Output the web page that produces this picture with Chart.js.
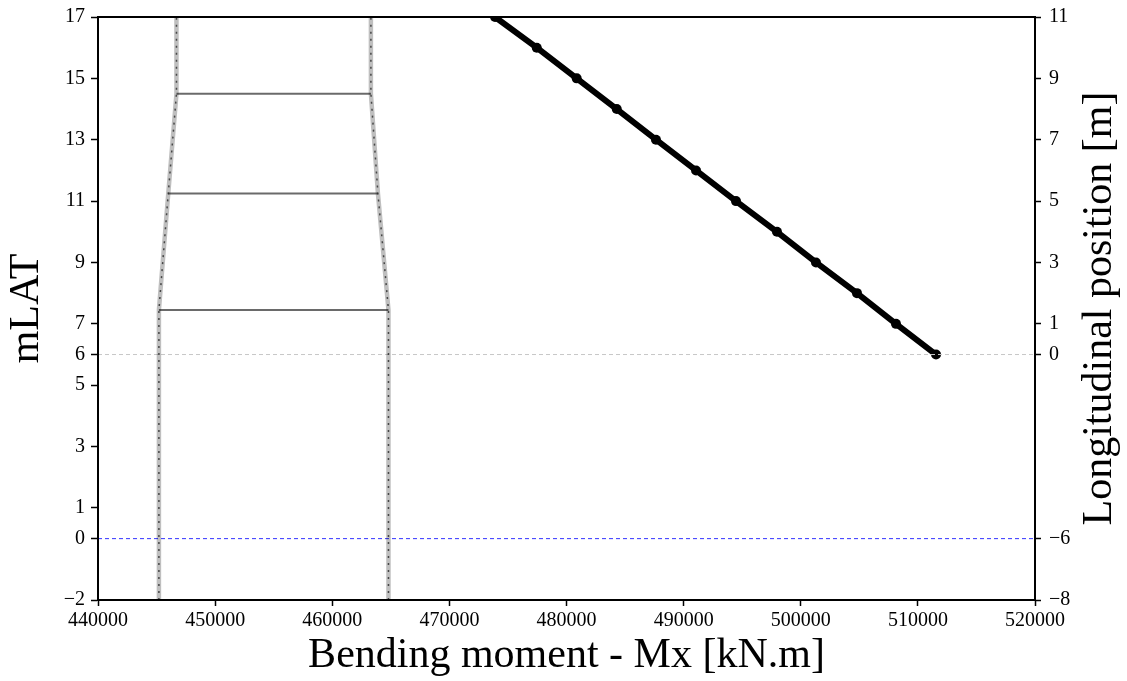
<!DOCTYPE html>
<html>
<head>
<meta charset="utf-8">
<script src="https://cdn.jsdelivr.net/npm/chart.js@4"></script>
<style>
  html, body { margin: 0; padding: 0; background: #fff; }
  #wrap { width: 1127px; height: 681px; }
</style>
</head>
<body>
<div id="wrap"><canvas id="chart" width="1127" height="681"></canvas></div>
<script>
// structure outline (left axis, mLAT)
const outlineLat = [-2, 7.45, 11.25, 14.5, 17];
const leftEdge = [445200, 445200, 446000, 446700, 446700];
const rightEdge = [464800, 464800, 463900, 463300, 463300];
const ringLat = [7.45, 11.25, 14.5];

// bending moment along the pile (right axis, longitudinal position)
const position = [0, 1, 2, 3, 4, 5, 6, 7, 8, 9, 10, 11];
const moment = [511550, 508130, 504800, 501300, 497970, 494470, 491060, 487640, 484290, 480870, 477460, 473900];

const leftTicks = [-2, 0, 1, 3, 5, 6, 7, 9, 11, 13, 15, 17];
const rightTicks = [-8, -6, 0, 1, 3, 5, 7, 9, 11];
const xMin = 440000, xMax = 520000;
const refLat = 6;
const waterLat = 0;

const font = "'Liberation Serif', 'DejaVu Serif', serif";
const rightTitle = "Longitudinal position [m]";

function edge(xs) {
  return xs.map((x, i) => ({ x: x, y: outlineLat[i] }));
}

const datasets = [];
[leftEdge, rightEdge].forEach(xs => {
  datasets.push({
    data: edge(xs), yAxisID: "y", borderColor: "rgba(0,0,0,0.25)",
    borderWidth: 4.5, pointRadius: 0, tension: 0
  });
  datasets.push({
    data: edge(xs), yAxisID: "y", borderColor: "rgba(40,40,40,0.75)",
    borderWidth: 1.5, borderDash: [2, 5], pointRadius: 0, tension: 0
  });
});
ringLat.forEach(lat => {
  const i = outlineLat.indexOf(lat);
  datasets.push({
    data: [{ x: leftEdge[i], y: lat }, { x: rightEdge[i], y: lat }],
    yAxisID: "y", borderColor: "rgba(80,80,80,0.85)", borderWidth: 2, pointRadius: 0
  });
});
datasets.push({
  data: [{ x: xMin, y: refLat }, { x: xMax, y: refLat }], yAxisID: "y",
  borderColor: "#c8c8c8", borderWidth: 1, borderDash: [4, 3], pointRadius: 0
});
datasets.push({
  data: [{ x: xMin, y: waterLat }, { x: xMax, y: waterLat }], yAxisID: "y",
  borderColor: "#3333ff", borderWidth: 1, borderDash: [4, 3], pointRadius: 0
});
datasets.push({
  data: position.map((p, i) => ({ x: moment[i], y: p })), yAxisID: "y2",
  borderColor: "#000", backgroundColor: "#000", borderWidth: 6,
  pointRadius: 5, pointBorderWidth: 0, pointHoverRadius: 5, tension: 0
});

const frame = {
  id: "frame",
  afterDraw(chart) {
    const a = chart.chartArea, c = chart.ctx;
    c.save();
    c.strokeStyle = "#000";
    c.lineWidth = 2;
    c.strokeRect(a.left, a.top, a.right - a.left, a.bottom - a.top);
    // right axis title, reading bottom to top
    c.translate(1100, (a.top + a.bottom) / 2);
    c.rotate(-Math.PI / 2);
    c.fillStyle = "#000";
    c.font = "42px " + font;
    c.textAlign = "center";
    c.textBaseline = "middle";
    c.fillText(rightTitle, 0, 0);
    c.restore();
  }
};

function axisTicks(list) {
  return function (scale) { scale.ticks = list.map(v => ({ value: v })); };
}
function fitY(w) {
  return function (s) { s.width = w; s.paddingTop = 0; s.paddingBottom = 0; };
}
const minus = v => String(v).replace("-", "\u2212");

new Chart(document.getElementById("chart"), {
  type: "line",
  data: { datasets: datasets },
  plugins: [frame],
  options: {
    responsive: false,
    animation: false,
    layout: { padding: { top: 17, left: 0, right: 0, bottom: 0 } },
    plugins: { legend: { display: false }, tooltip: { enabled: false } },
    scales: {
      x: {
        type: "linear", min: xMin, max: xMax,
        afterFit(s) { s.height = 81; s.paddingLeft = 0; s.paddingRight = 0; },
        ticks: { stepSize: 10000, color: "#000", font: { family: font, size: 20 }, padding: 3,
          callback: v => String(v) },
        grid: { drawOnChartArea: false, tickLength: 6, tickColor: "#000", tickWidth: 1.5 },
        border: { color: "#000", width: 2 },
        title: { display: true, text: "Bending moment - Mx [kN.m]", color: "#000",
          font: { family: font, size: 42 }, padding: { top: 0, bottom: 0 } }
      },
      y: {
        type: "linear", position: "left", min: -2, max: 17,
        afterBuildTicks: axisTicks(leftTicks),
        afterFit: fitY(98),
        ticks: { color: "#000", font: { family: font, size: 20 }, padding: 6, autoSkip: false,
          callback: minus },
        grid: { drawOnChartArea: false, tickLength: 7, tickColor: "#000", tickWidth: 1.5 },
        border: { color: "#000", width: 2 },
        title: { display: true, text: "mLAT", color: "#000",
          font: { family: font, size: 42 }, padding: { top: 2, bottom: 0 } }
      },
      y2: {
        type: "linear", position: "right", min: -8, max: 11,
        afterBuildTicks: axisTicks(rightTicks),
        afterFit: fitY(92),
        ticks: { color: "#000", font: { family: font, size: 20 }, padding: 8, autoSkip: false,
          callback: minus },
        grid: { drawOnChartArea: false, tickLength: 6, tickColor: "#000", tickWidth: 1.5 },
        border: { color: "#000", width: 2 }
      }
    }
  }
});
</script>
</body>
</html>
